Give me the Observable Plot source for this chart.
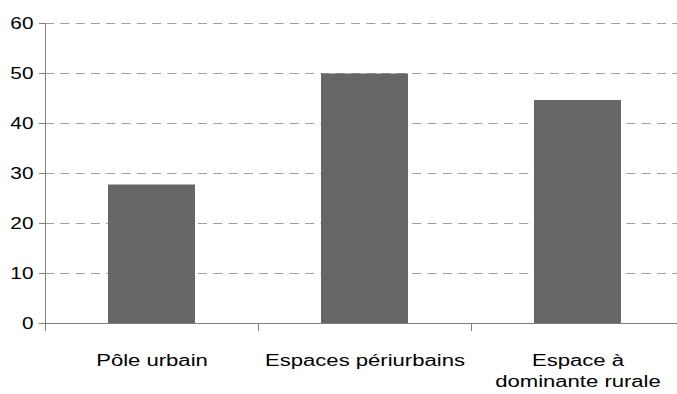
<!DOCTYPE html>
<html><head><meta charset="utf-8">
<script src="https://cdn.jsdelivr.net/npm/d3@7"></script>
<script src="https://cdn.jsdelivr.net/npm/@observablehq/plot@0.6"></script>
<style>
body{margin:0;background:#fff}
#chart svg{overflow:visible}
</style></head><body><div id="chart"></div>
<script>
const categories = ["Pôle urbain", "Espaces périurbains", "Espace à\ndominante rurale"];
const values = [27.7, 49.9, 44.6];
const yTicks = [0, 10, 20, 30, 40, 50, 60];

const data = categories.map((c, i) => ({cat: c, value: values[i]}));
const band = (684 - 45) / categories.length;

const chart = Plot.plot({
  width: 677, height: 394,
  marginLeft: 45, marginTop: 23, marginBottom: 71, marginRight: 0,
  style: {fontFamily: '"Liberation Sans", Arial, sans-serif', fontSize: "16px", background: "white", color: "black"},
  x: {domain: categories, range: [45, 684], paddingInner: 0.59, paddingOuter: 0.295, align: 0.5},
  y: {domain: [0, 60], ticks: yTicks},
  marks: [
    Plot.gridY(yTicks, {stroke: "#a0a0a0", strokeOpacity: 1, strokeDasharray: "9,6.3"}),
    Plot.barY(data, {x: "cat", y: "value", fill: "#666666"}),
    Plot.ruleY([0], {stroke: "#808080"}),
    Plot.ruleX([categories[0]], {stroke: "#808080", dx: -band / 2}),
    Plot.axisX({tickSize: 8, tickFormat: () => "", dx: -band / 2, stroke: "#808080", label: null}),
    Plot.axisX({tickSize: 0, tickPadding: 27.5, lineHeight: 1.3, label: null, fill: "black"}),
    Plot.axisY(yTicks, {tickSize: 6, tickPadding: 6, stroke: "#808080", label: null, fill: "black"})
  ]
});
document.getElementById("chart").appendChild(chart);
function stretch(sel, k) {
  d3.select(chart).selectAll(sel).each(function() {
    const t = this.getAttribute("transform") || "";
    this.setAttribute("transform", t + ` scale(${k},1)`);
  });
}
stretch('g[aria-label="x-axis tick label"] text', 1.38);
stretch('g[aria-label="y-axis tick label"] text', 1.3);
</script></body></html>
